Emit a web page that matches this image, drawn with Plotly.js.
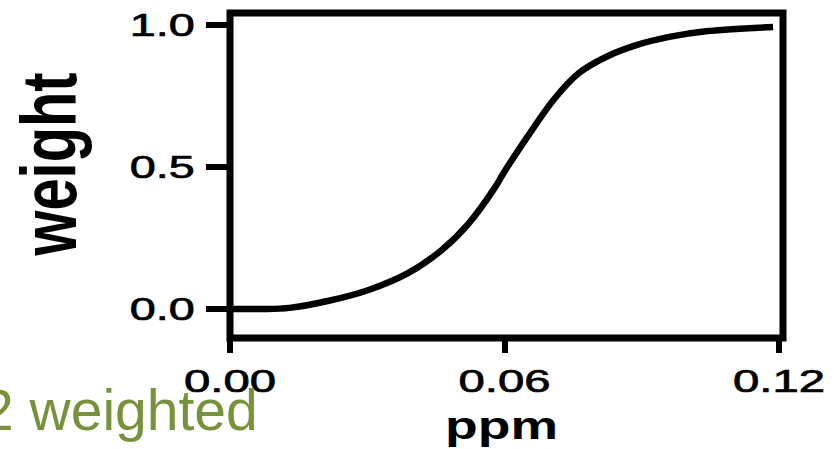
<!DOCTYPE html>
<html>
<head>
<meta charset="utf-8">
<script src="https://cdn.plot.ly/plotly-3.0.1.min.js"></script>
<style>
html,body{margin:0;padding:0;background:#fff;}
#chart{width:834px;height:449px;}
</style>
</head>
<body>
<div id="chart"></div>
<script>
// data
const ppm = [0, 0.007, 0.013, 0.0216, 0.0303, 0.039, 0.0463, 0.0521, 0.058, 0.0598, 0.065, 0.0707, 0.0762, 0.0825, 0.089, 0.096, 0.104, 0.1187];
const weight = [0, 0, 0.004, 0.029, 0.067, 0.127, 0.208, 0.30, 0.43, 0.479, 0.606, 0.736, 0.83, 0.89, 0.93, 0.958, 0.978, 0.993];
const xTickVals = [0, 0.06, 0.12];
const xTickText = ['0.00', '0.06', '0.12'];
const yTickVals = [0, 0.5, 1];
const yTickText = ['0.0', '0.5', '1.0'];
const xTitle = 'ppm';
const yTitle = 'weight';
const overlayText = '2 weighted';

const trace = {
  x: ppm, y: weight, type: 'scatter', mode: 'lines',
  line: {color: '#000', width: 6.5, shape: 'spline', smoothing: 0.9},
  hoverinfo: 'skip', cliponaxis: false
};

const FAM = 'Liberation Sans, Arial, sans-serif';
const tickFont = {family: FAM, size: 31, color: '#000'};

const layout = {
  width: 834, height: 449,
  margin: {l: 230, r: 51, t: 13, b: 111, pad: 0},
  paper_bgcolor: '#fff', plot_bgcolor: '#fff',
  showlegend: false,
  xaxis: {
    range: [0, 0.120874], showgrid: false, zeroline: false, showline: false,
    tickmode: 'array', tickvals: xTickVals, ticktext: xTickText,
    ticks: 'outside', ticklen: 14, tickwidth: 6, tickcolor: '#000',
    tickfont: tickFont, ticklabelstandoff: 2,
    title: {text: xTitle, font: {family: FAM, size: 38, weight: 'bold', color: '#000'}, standoff: 6}
  },
  yaxis: {
    range: [-0.10211, 1.04225], showgrid: false, zeroline: false, showline: false,
    tickmode: 'array', tickvals: yTickVals, ticktext: yTickText,
    ticks: 'outside', ticklen: 23, tickwidth: 6, tickcolor: '#000',
    tickfont: tickFont, ticklabelstandoff: 5,
    title: {text: yTitle, font: {family: FAM, size: 78, weight: 'bold', color: '#000'}, standoff: 20}
  },
  shapes: [{type: 'rect', xref: 'paper', yref: 'paper', x0: 0, x1: 1, y0: 0, y1: 1,
            line: {color: '#000', width: 7}, layer: 'above'}],
  annotations: [{
    text: overlayText, xref: 'paper', yref: 'paper', x: 0.0542, y: -0.2215,
    xanchor: 'right', yanchor: 'middle', showarrow: false,
    font: {family: FAM, size: 57, color: '#76923C'}
  }]
};

function stretch(sel, len) {
  document.querySelectorAll(sel).forEach(t => {
    t.setAttribute('textLength', len);
    t.setAttribute('lengthAdjust', 'spacingAndGlyphs');
  });
}
function embolden(sel, w) {
  document.querySelectorAll(sel).forEach(t => {
    t.style.stroke = '#000';
    t.style.strokeWidth = w + 'px';
  });
}
function place(sel, x, y, rot) {
  const t = document.querySelector(sel);
  if (!t) return;
  t.setAttribute('x', x);
  t.setAttribute('y', y);
  t.setAttribute('text-anchor', 'middle');
  if (rot) t.setAttribute('transform', 'rotate(' + rot + ',' + x + ',' + y + ')');
  else t.removeAttribute('transform');
}

Plotly.newPlot('chart', [trace], layout, {staticPlot: true, displayModeBar: false}).then(() => {
  stretch('.xtick text', 92);
  stretch('.ytick text', 65);
  stretch('.g-xtitle text', 113);
  stretch('.g-ytitle text', 183);
  embolden('.xtick text', 0.7);
  embolden('.ytick text', 0.7);
  place('.g-xtitle text', 501.5, 437, 0);
  place('.g-ytitle text', 76, 164, -90);
});
</script>
</body>
</html>
